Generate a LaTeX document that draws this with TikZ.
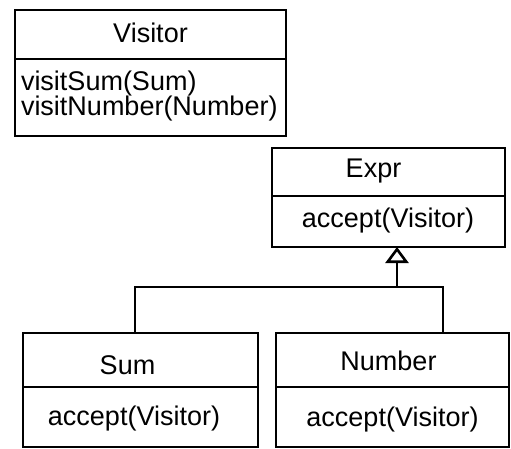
\documentclass[tikz,border=0pt]{standalone}
\usepackage{fontspec}
\setmainfont{Liberation Sans}
\usetikzlibrary{arrows.meta}
\begin{document}
\begin{tikzpicture}[x=1pt,y=-1pt,
  box/.style={draw=black, line width=2.6pt, inner sep=0pt, outer sep=0pt, anchor=north west},
  lbl/.style={inner sep=0pt, outer sep=0pt, anchor=base, font=\fontsize{27}{31}\selectfont},
  lbll/.style={lbl, anchor=base west},
  conn/.style={line width=2.6pt, draw=black}]
\useasboundingbox (0,0) rectangle (511,449);
% Visitor
\node[box, minimum width=271pt, minimum height=49pt] (vh) at (15,10) {};
\node[box, minimum width=271pt, minimum height=77pt] (vb) at (15,59) {};
\node[lbl] (vt) at (150.5,43) {Visitor};
\node[lbll] (vm1) at (21,91) {visitSum(Sum)};
\node[lbll] (vm2) at (21,116) {visitNumber(Number)};
% Expr
\node[box, minimum width=233pt, minimum height=48pt] (eh) at (272,148) {};
\node[box, minimum width=233pt, minimum height=51pt] (eb) at (272,196) {};
\node[lbl] (et) at (373.5,178) {Expr};
\node[lbl] (em) at (388,227) {accept(Visitor)};
% Sum
\node[box, minimum width=235pt, minimum height=54pt] (sh) at (23,333) {};
\node[box, minimum width=235pt, minimum height=60pt] (sb) at (23,387) {};
\node[lbl] (st) at (127.5,374) {Sum};
\node[lbl] (sm) at (134,425) {accept(Visitor)};
% Number
\node[box, minimum width=233pt, minimum height=54pt] (nh) at (276,333) {};
\node[box, minimum width=233pt, minimum height=60pt] (nb) at (276,387) {};
\node[lbl] (nt) at (388.5,370) {Number};
\node[lbl] (nm) at (392.5,426) {accept(Visitor)};
% connectors
\coordinate (sa) at (135,333);
\coordinate (na) at (443,333);
\coordinate (j) at (397,287);
\draw[conn] (sa) -- (sa |- j) -- (na |- j) -- (na);
\draw[conn, -{Triangle[open, length=16pt, width=23pt]}] (j) -- (j |- eb.south);
\end{tikzpicture}
\end{document}
